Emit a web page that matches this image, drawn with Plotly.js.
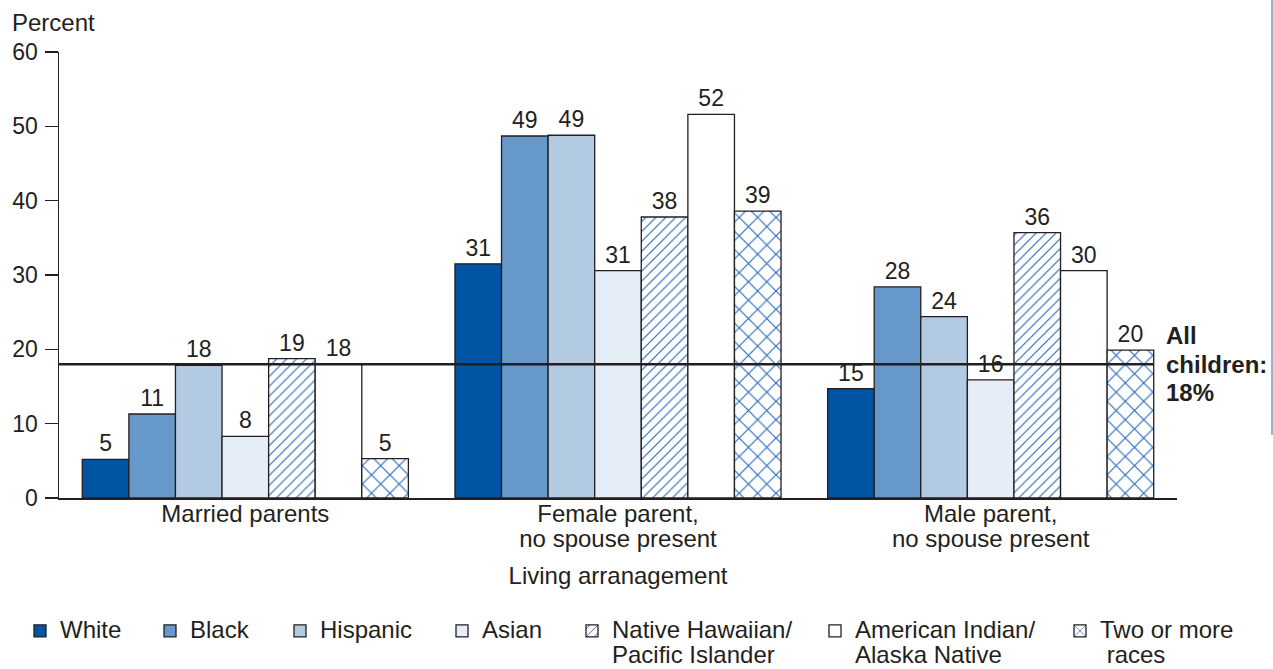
<!DOCTYPE html>
<html>
<head>
<meta charset="utf-8">
<script src="https://cdn.plot.ly/plotly-3.0.1.min.js"></script>
<style>
  html, body { margin: 0; padding: 0; background: #ffffff; }
  #chart { width: 1273px; height: 669px; }
</style>
</head>
<body>
<div id="chart"></div>
<script>
// ---- Data ----
const categories = ['Married parents', 'Female parent,<br>no spouse present', 'Male parent,<br>no spouse present'];
const seriesNames = ['White', 'Black', 'Hispanic', 'Asian', 'Native Hawaiian/<br>Pacific Islander', 'American Indian/<br>Alaska Native', 'Two or more<br>\u00a0races'];
const white    = [5.2, 31.5, 14.7];
const black    = [11.3, 48.7, 28.4];
const hispanic = [17.85, 48.8, 24.4];
const asian    = [8.3, 30.6, 15.9];
const nhpi     = [18.75, 37.8, 35.7];
const aian     = [18.0, 51.6, 30.6];
const twoPlus  = [5.3, 38.6, 19.9];
const whiteLabels    = ['5', '31', '15'];
const blackLabels    = ['11', '49', '28'];
const hispanicLabels = ['18', '49', '24'];
const asianLabels    = ['8', '31', '16'];
const nhpiLabels     = ['19', '38', '36'];
const aianLabels     = ['18', '52', '30'];
const twoPlusLabels  = ['5', '39', '20'];
const allChildren = 18;
const allChildrenLines = ['All', 'children:', '18%'];
const yTitle = 'Percent';
const xTitle = 'Living arranagement';

// ---- Style ----
const ink = '#231f20';
const font = 'Liberation Sans, Arial, Helvetica, sans-serif';
const hatchBlue = '#2a6bbd';
const values = [white, black, hispanic, asian, nhpi, aian, twoPlus];
const labels = [whiteLabels, blackLabels, hispanicLabels, asianLabels, nhpiLabels, aianLabels, twoPlusLabels];
const fills = ['#0054a4', '#6699c9', '#b3cae3', '#e5edf6', '#ffffff', '#ffffff', '#ffffff'];
const patterns = [null, null, null, null,
  {shape: '/', fgcolor: hatchBlue, bgcolor: '#ffffff', size: 7, solidity: 0.17, fillmode: 'replace'},
  null,
  {shape: 'x', fgcolor: hatchBlue, bgcolor: '#ffffff', size: 13, solidity: 0.17, fillmode: 'replace'}];

// glyph size vs. line spacing: lines are spaced by the outer font size, glyphs drawn at 24px
const big = s => s.split('<br>').map(l => '<span style="font-size:24px">' + l + '</span>').join('<br>');

// plot area in pixels
const L = 59, R = 1177, T = 52, B = 498;
const W = 1273, H = 669;
const px2x = p => (p - L) / (R - L);
const py2y = p => (B - p) / (B - T);
// legend text start pixels
const legendTextX = [60, 190, 320, 482, 612, 855, 1100];
const bargap = 0.125;

const traces = values.map((v, i) => {
  const marker = {color: fills[i], line: {color: ink, width: 1.3}};
  if (patterns[i]) marker.pattern = patterns[i];
  return {
    type: 'bar',
    name: big(seriesNames[i]),
    x: categories,
    y: v,
    text: labels[i],
    textposition: 'outside',
    textfont: {family: font, size: 23, color: ink},
    cliponaxis: false,
    marker: marker,
    legend: i === 0 ? 'legend' : 'legend' + (i + 1),
    hoverinfo: 'skip'
  };
});

const layout = {
  width: W, height: H,
  margin: {l: L, r: W - R, t: T, b: H - B, pad: 0},
  paper_bgcolor: '#ffffff',
  plot_bgcolor: '#ffffff',
  font: {family: font, size: 22, color: ink},
  barmode: 'group',
  bargap: bargap,
  bargroupgap: 0,
  xaxis: {
    type: 'category',
    range: [-0.5, 2.5],
    tickvals: categories,
    ticktext: categories.map(big),
    showline: true, linecolor: ink, linewidth: 1.5,
    ticks: '', showgrid: false, zeroline: false,
    tickfont: {family: font, size: 19, color: ink},
    title: {text: xTitle, font: {family: font, size: 24, color: ink}, standoff: 16},
    automargin: false
  },
  yaxis: {
    range: [0, 60],
    dtick: 10,
    showline: true, linecolor: ink, linewidth: 1.5,
    ticks: 'outside', ticklen: 13, tickwidth: 1.3, tickcolor: ink,
    ticklabelstandoff: 2,
    showgrid: false, zeroline: false,
    tickfont: {family: font, size: 23, color: ink},
    automargin: false
  },
  shapes: [
    {type: 'line', xref: 'x', yref: 'y', x0: -0.5, x1: 2 + (1 - bargap) / 2, y0: allChildren, y1: allChildren,
     line: {color: ink, width: 2.5}, layer: 'above'},
    {type: 'line', xref: 'paper', yref: 'paper', x0: px2x(1272), x1: px2x(1272), y0: py2y(0), y1: py2y(435),
     line: {color: '#4a80c4', width: 1.2}}
  ],
  annotations: [
    {xref: 'paper', yref: 'paper', x: px2x(10), y: py2y(22), xanchor: 'left', yanchor: 'middle',
     text: yTitle, showarrow: false, font: {family: font, size: 24, color: ink}},
    {xref: 'paper', yref: 'y', x: px2x(1164), y: allChildren, xanchor: 'left', yanchor: 'middle',
     align: 'left', text: '<b>' + big(allChildrenLines.join('<br>')) + '</b>', showarrow: false,
     font: {family: font, size: 22, color: ink}}
  ],
  showlegend: true
};

legendTextX.forEach((tx, i) => {
  const key = i === 0 ? 'legend' : 'legend' + (i + 1);
  layout[key] = {
    xref: 'paper', x: px2x(tx - 40), xanchor: 'left',
    yref: 'container', y: 1 - 612 / H, yanchor: 'top',
    orientation: 'v',
    valign: 'top',
    bgcolor: 'rgba(0,0,0,0)',
    borderwidth: 0,
    font: {family: font, size: 19, color: ink}
  };
});

Plotly.newPlot('chart', traces, layout, {displayModeBar: false, staticPlot: true});
</script>
</body>
</html>
